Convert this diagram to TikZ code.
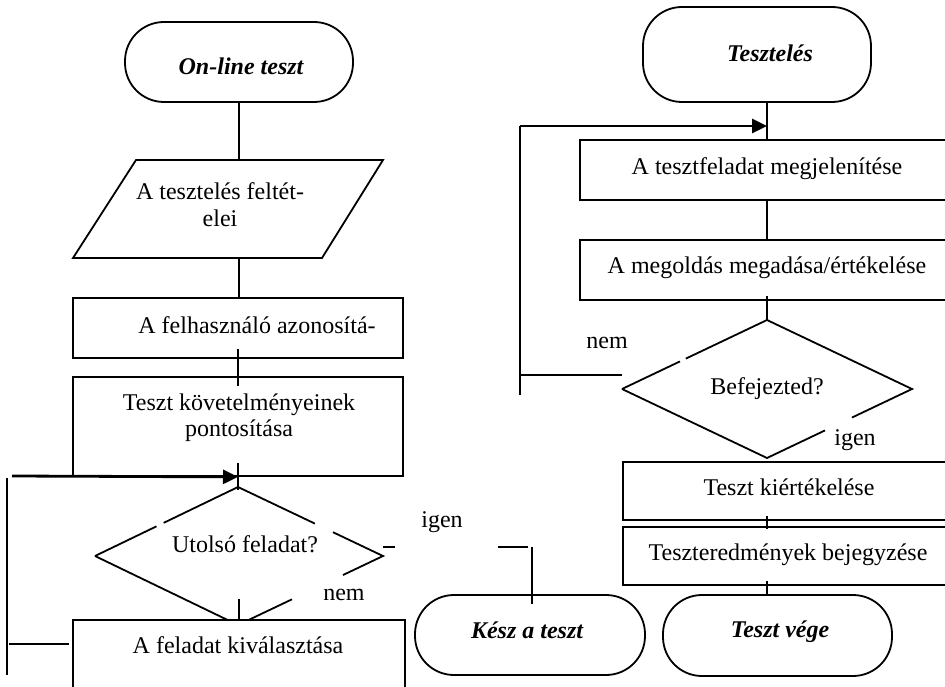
\documentclass[tikz,border=0pt]{standalone}
\usepackage{fontspec}
\setmainfont{Liberation Serif}
\usetikzlibrary{arrows.meta,calc}
\begin{document}
\begin{tikzpicture}[x=1pt,y=-1pt,
  txt/.style={inner sep=0,anchor=base,font=\fontsize{24}{28}\selectfont},
  ttxt/.style={inner sep=0,anchor=base,font=\fontsize{24}{28}\selectfont\bfseries\itshape},
  ln/.style={line width=1.8pt},
  arr/.style={line width=2.8pt,-{Triangle[length=15pt,width=14pt]}},
  box/.style={draw,line width=1.8pt,fill=white,inner sep=0},
  term/.style={draw,line width=1.8pt,fill=white,inner sep=0,rounded corners=39pt}]
\useasboundingbox (0,0) rectangle (945,687);
\clip (0,0) rectangle (945,687);
% ---------- left column ----------
\node[term,minimum width=228,minimum height=80] (on) at (239,62) {};
\node[ttxt] (ont) at (241,75) {On-line teszt};
\coordinate (pA) at (73,258);
\coordinate (pB) at (322,258);
\coordinate (pC) at (383,160);
\coordinate (pD) at (136,160);
\draw[ln,fill=white] (pA) -- (pB) -- (pC) -- (pD) -- cycle;
\coordinate (parT) at (239,160);
\coordinate (parB) at (239,258);
\node[txt] (par1) at (220,200) {A tesztelés feltét-};
\node[txt] (par2) at (220,227) {elei};
\node[box,minimum width=330,minimum height=60] (fa) at (238,328) {};
\node[txt] (fat) at (257,333) {A felhasználó azonosítá-};
\node[box,minimum width=330,minimum height=99] (tk) at (238,426.5) {};
\node[txt] (tk1) at (239,410) {Teszt követelményeinek};
\node[txt] (tk2) at (239,436) {pontosítása};
% left diamond
\coordinate (dT) at (238,487);
\coordinate (dR) at (383,556);
\coordinate (dB) at (238,625);
\coordinate (dL) at (95,556);
\draw[ln] (dL) -- ($(dL)!0.43!(dT)$);
\draw[ln] ($(dL)!0.48!(dT)$) -- (dT) -- ($(dT)!0.53!(dR)$);
\draw[ln] ($(dT)!0.655!(dR)$) -- (dR) -- ($(dR)!0.276!(dB)$);
\draw[ln] ($(dR)!0.628!(dB)$) -- (dB) -- (dL);
\node[txt] (ut) at (245,552) {Utolsó feladat?};
\node[txt] (nem1) at (344,600) {nem};
\node[txt] (igen1) at (442,527) {igen};
\node[box,minimum width=332,minimum height=100] (fc) at (239,670) {};
\node[txt] (fct) at (238,653) {A feladat kiválasztása};
\node[term,minimum width=230,minimum height=80] (ke) at (530,635) {};
\node[ttxt] (ket) at (527,638) {Kész a teszt};
% left connectors
\draw[ln] (on.south) -- (parT);
\draw[ln] (parB) -- (parB |- fa.north);
\draw[ln] ($(fa.south)+(0,-10)$) -- ($(tk.north)+(0,10)$);
\draw[ln] ($(tk.south)+(0,-14)$) -- ($(dT)+(0,3)$);
\coordinate (lA) at (12,476);
\draw[arr] (lA) -- (tk.south);
\coordinate (lv1) at (7,478);
\coordinate (lv2) at (7,675);
\draw[ln] (lv1) -- (lv2);
\coordinate (lh) at (9,644);
\draw[ln,shorten >=3pt] (lh) -- (lh -| fc.west);
\draw[ln] ($(fc.north)+(0,-20)$) -- (fc.north);
% stray marks near "igen"
\coordinate (s1) at (383,547);
\coordinate (s2) at (395,547);
\draw[ln] (s1) -- (s2);
\coordinate (s3) at (498,547);
\coordinate (s4) at (528,547);
\coordinate (s5) at (532,547);
\draw[ln] (s3) -- (s4);
\draw[ln] (s5) -- (s5 |- ke.north) -- ++(0,10);
% ---------- right column ----------
\node[term,minimum width=228,minimum height=95] (ts) at (757,54.5) {};
\node[ttxt] (tst) at (770,62) {Tesztelés};
\node[box,minimum width=400,minimum height=60] (bx1) at (780,170) {};
\node[txt] (r1t) at (767,175) {A tesztfeladat megjelenítése};
\node[box,minimum width=400,minimum height=60] (bx2) at (780,270) {};
\node[txt] (r2t) at (767,273) {A megoldás megadása/értékelése};
% right diamond
\coordinate (rT) at (767,320);
\coordinate (rR) at (912,389);
\coordinate (rB) at (767,458);
\coordinate (rL) at (622,389);
\draw[ln] (rL) -- ($(rL)!0.40!(rT)$);
\draw[ln] ($(rL)!0.44!(rT)$) -- (rT) -- (rR) -- ($(rR)!0.414!(rB)$);
\draw[ln] ($(rR)!0.60!(rB)$) -- (rB) -- (rL);
\node[txt] (bef) at (767,394) {Befejezted?};
\node[txt] (nem2) at (607,348) {nem};
\node[txt] (igen2) at (855,445) {igen};
\node[box,minimum width=357,minimum height=58] (bx3) at (801.5,491) {};
\node[txt] (r3t) at (789,495) {Teszt kiértékelése};
\node[box,minimum width=357,minimum height=58] (bx4) at (801.5,556) {};
\node[txt] (r4t) at (788,560) {Teszteredmények bejegyzése};
\node[term,minimum width=229,minimum height=81] (ve) at (777.5,635.5) {};
\node[ttxt] (vet) at (780,637) {Teszt vége};
% right connectors
\draw[ln] (ts.south -| r1t) -- (bx1.north -| r1t);
\coordinate (rA) at (520,126);
\draw[arr] (rA) -- (rA -| r1t);
\coordinate (rE) at (520,395);
\draw[ln] (rA) -- (rE);
\coordinate (rC) at (520,375);
\draw[ln] (rC) -- (rC -| rL);
\draw[ln] (bx1.south -| r1t) -- (bx2.north -| r1t);
\draw[ln] ($(bx2.south -| r1t)+(0,-5)$) -- (rT);
\draw[ln] ($(bx3.south -| r1t)+(0,-5)$) -- ($(bx4.north -| r1t)+(0,3)$);
\draw[ln] ($(bx4.south -| r1t)+(0,-5)$) -- (ve.north -| r1t);
\end{tikzpicture}
\end{document}
